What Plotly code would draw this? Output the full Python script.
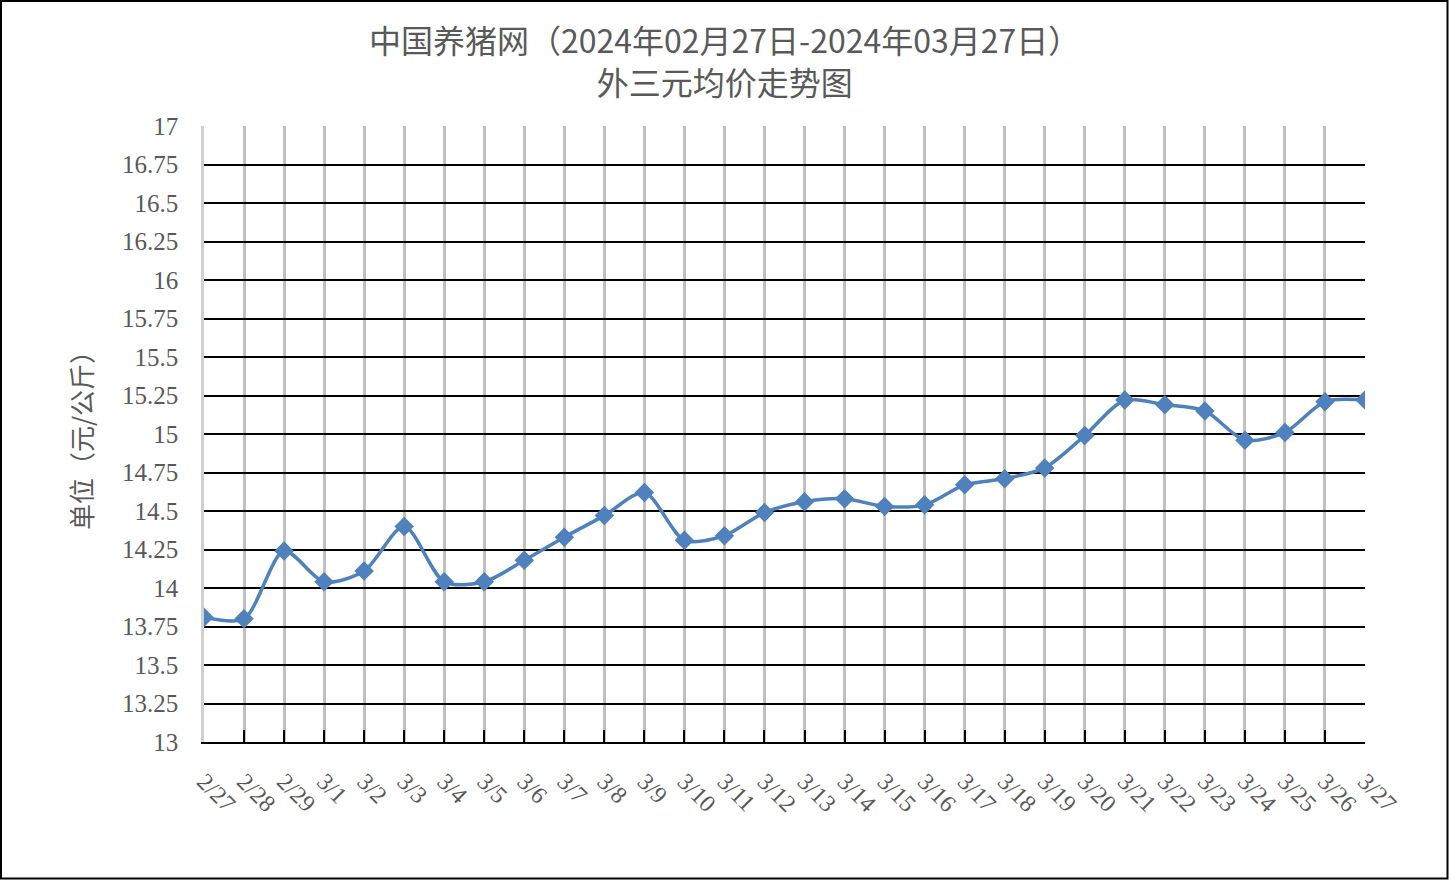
import plotly.graph_objects as go

dates = ["2/27", "2/28", "2/29", "3/1", "3/2", "3/3", "3/4", "3/5", "3/6", "3/7",
         "3/8", "3/9", "3/10", "3/11", "3/12", "3/13", "3/14", "3/15", "3/16", "3/17",
         "3/18", "3/19", "3/20", "3/21", "3/22", "3/23", "3/24", "3/25", "3/26", "3/27"]
prices = [13.81, 13.80, 14.24, 14.04, 14.11, 14.40, 14.04, 14.04, 14.18, 14.33,
          14.47, 14.62, 14.31, 14.34, 14.49, 14.56, 14.58, 14.53, 14.54, 14.67,
          14.71, 14.78, 14.99, 15.22, 15.19, 15.15, 14.96, 15.01, 15.21, 15.22]
y_ticks = [13, 13.25, 13.5, 13.75, 14, 14.25, 14.5, 14.75, 15, 15.25, 15.5, 15.75, 16, 16.25, 16.5, 16.75, 17]
y_labels = ["13", "13.25", "13.5", "13.75", "14", "14.25", "14.5", "14.75", "15", "15.25",
            "15.5", "15.75", "16", "16.25", "16.5", "16.75", "17"]

title_text = "中国养猪网（2024年02月27日-2024年03月27日）<br>外三元均价走势图"
y_title = "单位（元/公斤）"

FONT = "Liberation Serif, Noto Sans CJK SC, serif"
TFONT = "Noto Sans CJK SC, Liberation Serif"
TXT = "#595959"

W, H = 1449, 880
ml, mr, mt, mb = 204, 84, 126, 138
pw, ph = W - ml - mr, H - mt - mb

fig = go.Figure()
fig.add_trace(go.Scatter(
    x=list(range(len(dates))), y=prices, mode="lines+markers",
    line=dict(color="#4F81BD", width=3.5, shape="spline", smoothing=0.8),
    marker=dict(symbol="diamond", size=15, color="#4F81BD"),
    hoverinfo="x+y",
))

fig.update_layout(
    width=W, height=H,
    margin=dict(l=ml, r=mr, t=mt, b=mb),
    paper_bgcolor="white", plot_bgcolor="white",
    showlegend=False,
    font=dict(family=FONT, color=TXT),
    xaxis=dict(
        range=[0, len(dates) - 1],
        tickmode="array", tickvals=list(range(len(dates))), ticktext=dates,
        tickangle=45, tickfont=dict(family=FONT, size=24, color=TXT),
        ticks="inside", ticklen=12, tickwidth=2, tickcolor="black",
        showline=True, linecolor="black", linewidth=2,
        showgrid=True, gridcolor="#C0C0C0", gridwidth=2.5,
        zeroline=False, ticklabelstandoff=14,
    ),
    yaxis=dict(
        range=[13, 17],
        tickmode="array", tickvals=y_ticks, ticktext=y_labels,
        tickfont=dict(family=FONT, size=25, color=TXT),
        ticks="", showline=True, linecolor="#D0D0D0", linewidth=2.5,
        showgrid=True, gridcolor="black", gridwidth=2,
        zeroline=False, ticklabelstandoff=18,
        title=dict(text=y_title, font=dict(family="Noto Sans CJK SC", size=26, color=TXT), standoff=22),
    ),
)

fig.add_annotation(text=title_text, xref="paper", yref="paper",
                   x=(W / 2 - ml) / pw, y=1 + (mt - 60) / ph,
                   xanchor="center", yanchor="middle", showarrow=False,
                   font=dict(family=TFONT, size=32, color=TXT))

fig.add_shape(type="rect", xref="paper", yref="paper",
              x0=-(ml - 1) / pw, x1=1 + (mr - 1.5) / pw,
              y0=-(mb - 1.5) / ph, y1=1 + (mt - 1) / ph,
              line=dict(color="black", width=2), fillcolor="rgba(0,0,0,0)", layer="above")

fig.write_html("out.html", config={"displayModeBar": False},
               post_script="document.body.style.margin='0';document.body.style.overflow='hidden';")
